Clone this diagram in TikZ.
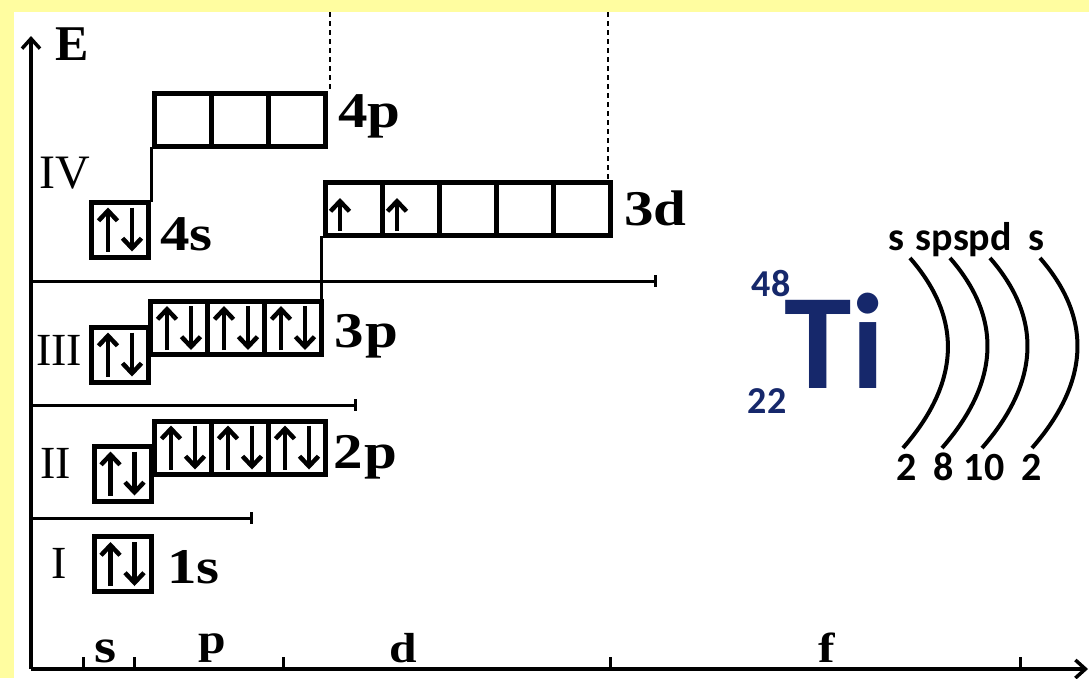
\documentclass[tikz,border=0pt]{standalone}
\usepackage{fontspec}
\setmainfont{Liberation Serif}
\newfontfamily\lblfont[FakeStretch=1.18]{Liberation Serif}
\newfontfamily\carl{Carlito}
\usetikzlibrary{arrows.meta,calc}
\definecolor{pagebg}{RGB}{255,253,160}
\definecolor{tinavy}{RGB}{22,40,107}
\newcommand\fsz[1]{\fontsize{#1}{#1}\selectfont}
% a paired up/down spin inside an orbital cell
\newcommand\spinpair[1]{%
  \draw[spin] ($(#1.center)+(-12,22)$) -- ($(#1.center)+(-12,-22)$);
  \draw[spin] ($(#1.center)+(12,-22)$) -- ($(#1.center)+(12,22)$);}
% a single up spin
\newcommand\spinup[1]{%
  \draw[spin] ($(#1.center)+(-14,22)$) -- ($(#1.center)+(-14,-11)$);}
\begin{document}
\begin{tikzpicture}[x=1pt,y=-1pt,
  cell/.style={draw,line width=5pt,minimum width=57pt,minimum height=53pt,inner sep=0pt,outer sep=0pt},
  scell/.style={cell,minimum height=55pt},
  spin/.style={line width=4.5pt,-{Straight Barb[length=10pt,width=19pt]}},
  axis/.style={line width=3.5pt,-{Straight Barb[length=10pt,width=18pt]}},
  shelline/.style={line width=3pt,-{Bar[width=12pt]}},
  link/.style={line width=3pt},
  tick/.style={line width=3pt},
  guide/.style={line width=1.3pt,dash pattern=on 5pt off 4pt},
  lbl/.style={font=\lblfont\fsz{50}\bfseries,inner sep=0pt,anchor=base west},
  shell/.style={font=\fsz{46},inner sep=0pt,anchor=base west},
  sub/.style={font=\lblfont\fsz{42}\bfseries,inner sep=0pt,anchor=base},
  shellarc/.style={line width=4pt},
  iso/.style={font=\carl\bfseries\fsz{38},text=tinavy,inner sep=0pt},
  note/.style={font=\carl\bfseries\fsz{40},inner sep=0pt,anchor=base},
]
\useasboundingbox (0,0) rectangle (1089,678);
\fill[pagebg] (0,0) rectangle (1089,678);
\fill[white] (14,12) rectangle (1089,678);

% axes
\coordinate (O) at (31,669);
\coordinate (Etop) at (31,36);
\coordinate (Xend) at (1088,669);
\draw[axis] (O) -- (Etop);
\draw[axis] (O) -- (Xend);
\node[font=\fsz{50}\bfseries,inner sep=0pt] (E) at (72,44) {E};
\foreach \x in {83,134,283,610,1020} \draw[tick] (\x,669) -- (\x,657);
\node[sub,font=\lblfont\fsz{48}\bfseries] (ls) at (106,662) {s};
\node[sub] (lp) at (212,653) {p};
\node[sub] (ld) at (403,662) {d};
\node[sub] (lf) at (827,662) {f};

% dashed guides
\draw[guide] (330,12) -- (330,92);
\draw[guide] (608,12) -- (608,180);

% shell separators
\coordinate (sep4) at (31,281); \coordinate (sep4e) at (657,281);
\coordinate (sep3) at (31,405); \coordinate (sep3e) at (357,405);
\coordinate (sep2) at (31,518); \coordinate (sep2e) at (253,518);
\draw[shelline] (sep4) -- (sep4e);
\draw[shelline] (sep3) -- (sep3e);
\draw[shelline] (sep2) -- (sep2e);

% shell numbers
\node[shell,font=\fsz{48}] (nIV) at (39,188) {IV};
\node[shell] (nIII) at (36,365) {III};
\node[shell] (nII) at (40,478) {II};
\node[shell] (nI) at (51,578) {I};

% shell IV
\node[scell] (s4) at (120,229.5) {};
\node[cell] (p4a) at (183,120) {};
\node[cell] (p4b) at (240,120) {};
\node[cell] (p4c) at (297,120) {};
\spinpair{s4}
\draw[link] ([xshift=3pt]s4.north east) -- ([xshift=3pt]s4.north east |- p4a.south);
\node[lbl] (t4s) at (160,250) {4s};
\node[lbl] (t4p) at (338,127) {4p};

% 3d
\node[cell] (d3a) at (354,209) {};
\node[cell] (d3b) at (411,209) {};
\node[cell] (d3c) at (468,209) {};
\node[cell] (d3d) at (525,209) {};
\node[cell] (d3e) at (582,209) {};
\spinup{d3a}
\spinup{d3b}
\node[lbl] (t3d) at (624,225) {3d};

% shell III
\node[scell] (s3) at (120,354.5) {};
\node[cell] (p3a) at (179,328) {};
\node[cell] (p3b) at (236,328) {};
\node[cell] (p3c) at (293,328) {};
\spinpair{s3}
\spinpair{p3a}
\spinpair{p3b}
\spinpair{p3c}
\draw[link] (p3c.north east) -- (p3c.north east |- d3a.south);
\node[lbl] (t3p) at (334,347) {3\kern2pt p};

% shell II
\node[scell] (s2) at (122.5,473.5) {};
\node[cell] (p2a) at (183,447.5) {};
\node[cell] (p2b) at (240,447.5) {};
\node[cell] (p2c) at (297,447.5) {};
\spinpair{s2}
\spinpair{p2a}
\spinpair{p2b}
\spinpair{p2c}
\node[lbl] (t2p) at (333,468) {2\kern2pt p};

% shell I
\node[scell] (s1) at (122.5,564) {};
\spinpair{s1}
\node[lbl] (t1s) at (167,583) {1s};

% titanium symbol
\node[font=\carl\bfseries\fsz{136},text=tinavy,inner sep=0pt,anchor=base west] (Ti) at (784,388) {Ti};
\node[iso] (mass) at (771,284) {48};
\node[iso] (num) at (767,401) {22};

% shell arcs
\foreach \t/\b in {910/903,950/942,990/982,1040/1032}
  \draw[shellarc] (\t,258) .. controls (\t+55,321) and (\b+55,385) .. (\b,448);

\node[note] (o1) at (896,250) {s};
\node[note,anchor=base west] (o2) at (915,250) {sp};
\node[note,anchor=base west] (o3) at (o2.base east) {spd};
\node[note] (o4) at (1036,250) {s};

\node[note] (e1) at (907,480) {2};
\node[note] (e2) at (944,480) {8};
\node[note] (e3) at (984,480) {10};
\node[note] (e4) at (1032,480) {2};
\end{tikzpicture}
\end{document}
